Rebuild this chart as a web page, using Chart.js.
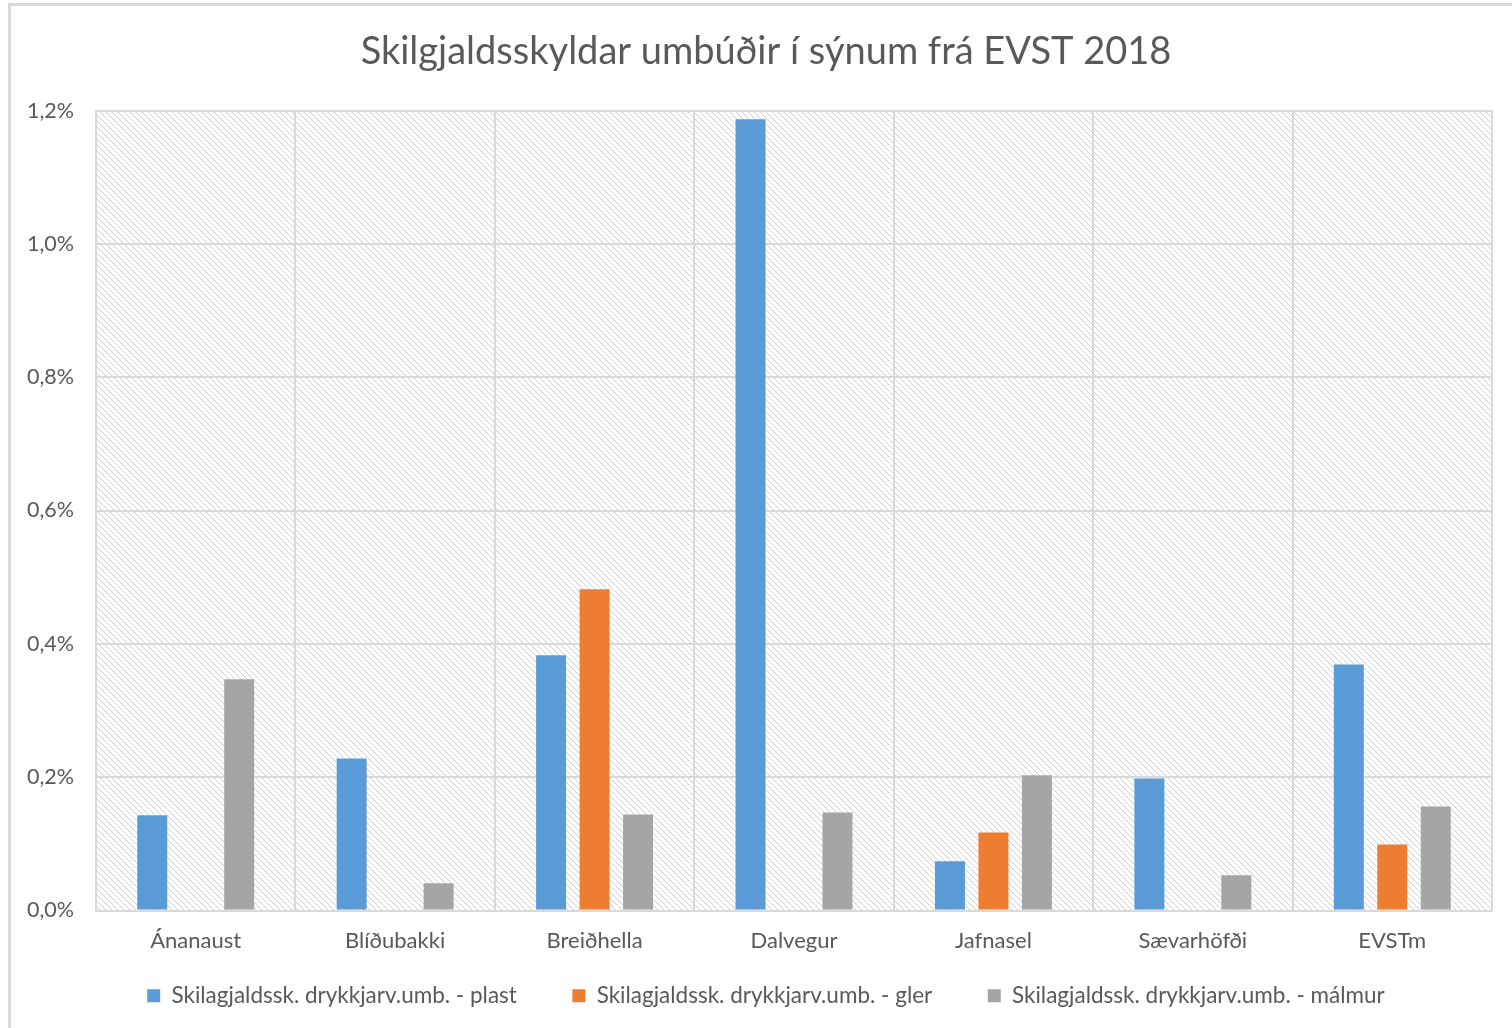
<!DOCTYPE html>
<html>
<head>
<meta charset="utf-8">
<script src="https://cdn.jsdelivr.net/npm/chart.js@4"></script>
<style>
  html, body { margin: 0; padding: 0; background: #fff; overflow: hidden; }
  #wrap { width: 1512px; height: 1028px; }
</style>
</head>
<body>
<div id="wrap"><canvas id="myChart" width="1512" height="1028"></canvas></div>
<script>
const labels1 = ["Ánanaust", "Blíðubakki", "Breiðhella", "Dalvegur", "Jafnasel", "Sævarhöfði", "EVSTm"]
const seriesNames = [
	"Skilagjaldssk. drykkjarv.umb. - plast",
	"Skilagjaldssk. drykkjarv.umb. - gler",
	"Skilagjaldssk. drykkjarv.umb. - málmur"
]
// values in percent
const plast = [0.143, 0.228, 0.383, 1.187, 0.074, 0.198, 0.369]
const gler = [0, 0, 0.482, 0, 0.117, 0, 0.099]
const malmur = [0.347, 0.041, 0.144, 0.147, 0.203, 0.053, 0.156]
const colors1 = ["#5b9bd5", "#ed7d31", "#a5a5a5"]

const font = "Lato, 'Open Sans', sans-serif"
const textColor = "#595959"
const gridColor = "#d9d9d9"

// hatch tile for the plot area
function makeHatch() {
	const n = 6
	const c = document.createElement("canvas")
	c.width = n
	c.height = n
	const g = c.getContext("2d")
	g.fillStyle = "#ffffff"
	g.fillRect(0, 0, n, n)
	g.fillStyle = "#d0d0d0"
	for (let i = 0; i < n; i++) {
		g.fillRect(i, i, 1, 1)
	}
	return c
}

const backdrop = {
	id: "backdrop",
	beforeDraw(chart) {
		const ctx = chart.ctx
		const a = chart.chartArea
		ctx.save()
		ctx.fillStyle = ctx.createPattern(makeHatch(), "repeat")
		ctx.fillRect(a.left, a.top, a.right - a.left, a.bottom - a.top)
		ctx.strokeStyle = gridColor
		ctx.lineWidth = 3
		ctx.strokeRect(9.5, 4.5, 1700, 1200)
		ctx.restore()
	}
}

const makeSet = (i, vals) => ({
	label: seriesNames[i],
	data: vals,
	backgroundColor: colors1[i],
	categoryPercentage: 0.654,
	barPercentage: 0.69
})

let chart1 = new Chart(document.getElementById("myChart").getContext("2d"), {
	type: "bar",
	data: {
		labels: labels1,
		datasets: [makeSet(0, plast), makeSet(1, gler), makeSet(2, malmur)]
	},
	plugins: [backdrop],
	options: {
		responsive: false,
		animation: false,
		layout: { padding: { left: 40, right: 20, top: 14, bottom: 11 } },
		plugins: {
			title: {
				display: true,
				text: "Skilgjaldsskyldar umbúðir í sýnum frá EVST 2018",
				color: textColor,
				font: { family: font, size: 38, weight: "normal" },
				padding: { top: 15, bottom: 36 }
			},
			legend: {
				position: "bottom",
				labels: {
					color: textColor,
					font: { family: font, size: 22.5 },
					boxWidth: 13,
					boxHeight: 13,
					padding: 55.5
				}
			},
			tooltip: { enabled: false }
		},
		scales: {
			x: {
				grid: { color: gridColor, lineWidth: 2, drawTicks: false },
				border: { color: gridColor, width: 2 },
				afterFit: s => { s.height = 18.5 },
				ticks: { color: textColor, font: { family: font, size: 22 }, mirror: true, padding: -44 }
			},
			y: {
				min: 0,
				max: 1.2,
				grid: { color: gridColor, lineWidth: 2, drawTicks: false },
				border: { color: gridColor, width: 2 },
				afterFit: s => { s.width = 56 },
				ticks: {
					stepSize: 0.2,
					color: textColor,
					font: { family: font, size: 21.5 },
					mirror: true,
					padding: -69,
					callback: v => v.toFixed(1).replace(".", ",") + "%"
				}
			}
		}
	}
})
</script>
</body>
</html>
